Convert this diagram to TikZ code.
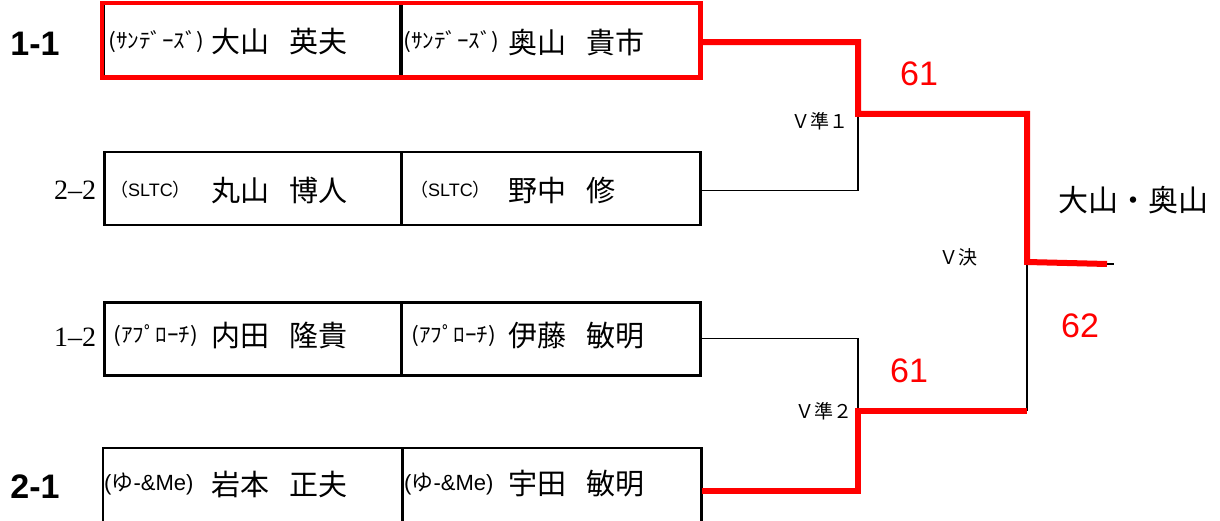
\documentclass[tikz,border=0pt]{standalone}
\usepackage{fontspec}
\setmainfont{Noto Sans CJK JP}
\newfontfamily\arialf{Liberation Sans}
\newfontfamily\timesf{Liberation Serif}
\newcommand{\kata}[1]{\scalebox{1.1}[1]{#1}}
\begin{document}
\begin{tikzpicture}[x=1pt,y=-1pt,
  cell/.style={draw=black,line width=2.5pt,minimum height=73pt,inner sep=0pt,anchor=north west},
  lcell/.style={cell,minimum width=297pt},
  rcell/.style={cell,minimum width=299pt},
  club/.style={anchor=west,inner sep=0pt,font=\fontsize{21}{21}\selectfont},
  clubl/.style={anchor=west,inner sep=0pt,font=\fontsize{18}{18}\selectfont},
  clubm/.style={anchor=west,inner sep=0pt,font=\fontsize{22}{22}\selectfont},
  pname/.style={anchor=west,inner sep=0pt,font=\fontsize{29}{29}\selectfont},
  win/.style={draw=red,line width=6pt},
  lose/.style={draw=black,line width=1.3pt},
  vlbl/.style={inner sep=0pt,font=\fontsize{19}{19}\selectfont},
  score/.style={inner sep=0pt,text=red,font=\arialf\fontsize{34}{34}\selectfont},
  seedb/.style={inner sep=0pt,font=\arialf\bfseries\fontsize{34}{34}\selectfont},
  seeds/.style={inner sep=0pt,font=\timesf\fontsize{28}{28}\selectfont}
]
\useasboundingbox (0,0) rectangle (1220,521);
% boxes
\node[lcell,minimum height=72pt] (L1) at (102,3) {};
\node[rcell,minimum height=72pt,minimum width=298pt] (R1) at (400,3) {};
\draw[red,line width=4.5pt] (L1.north west) rectangle (R1.south east);
\node[lcell] (L2) at (103,151) {};
\node[rcell] (R2) at (400,151) {};
\node[lcell] (L3) at (103,301) {};
\node[rcell] (R3) at (400,301) {};
\node[lcell,draw=none,minimum height=75pt] (L4) at (103,448) {};
\node[rcell,draw=none,minimum height=75pt] (R4) at (400,448) {};
\draw[line width=2.5pt] (L4.south west) -- (L4.north west) -- (R4.north east) -- (R4.south east);
\draw[line width=2.5pt] (L4.north east) -- (L4.south east);
% texts
\node[club] (c1a) at (108,42) {\kata{(ｻﾝﾃﾞｰｽﾞ)}};
\node[pname] (p1a) at (211,42) {大山\hspace{20pt}英夫};
\node[club] (c1b) at (403,42) {\kata{(ｻﾝﾃﾞｰｽﾞ)}};
\node[pname] (p1b) at (508,42) {奥山\hspace{20pt}貴市};
\node[clubl] (c2a) at (110,190) {（{\arialf SLTC}）};
\node[pname] (p2a) at (211,190) {丸山\hspace{20pt}博人};
\node[clubl] (c2b) at (410,190) {（{\arialf SLTC}）};
\node[pname] (p2b) at (508,190) {野中\hspace{20pt}修};
\node[club] (c3a) at (113,336) {\kata{(ｱﾌﾟﾛｰﾁ)}};
\node[pname] (p3a) at (211,336) {内田\hspace{20pt}隆貴};
\node[club] (c3b) at (411,336) {\kata{(ｱﾌﾟﾛｰﾁ)}};
\node[pname] (p3b) at (508,336) {伊藤\hspace{20pt}敏明};
\node[clubm] (c4a) at (104,484) {{\arialf(}ゆ{\arialf-\&Me)}};
\node[pname] (p4a) at (211,484) {岩本\hspace{20pt}正夫};
\node[clubm] (c4b) at (404,484) {{\arialf(}ゆ{\arialf-\&Me)}};
\node[pname] (p4b) at (508,484) {宇田\hspace{20pt}敏明};
% seeds
\node[seedb] (n11) at (35,44) {1-1};
\node[seedb] (n21) at (35,487) {2-1};
\node[seeds] (n22) at (75,190) {2–2};
\node[seeds] (n12) at (75,337) {1–2};
% bracket
\coordinate (q1) at (858,114);
\coordinate (q2) at (858,411);
\coordinate (k1) at (1027,114);
\coordinate (k2) at (1027,411);
\coordinate (f) at (1027,262);
\coordinate (fe) at (1107,264);
\coordinate (fe2) at (1114,264);
\draw[lose] ([yshift=-2pt]R2.east) -| (q1);
\draw[lose] (R3.east) -| (q2);
\draw[lose] (k2) -- (f);
\draw[lose] (fe) -- (fe2);
\draw[win] ([yshift=-2pt]R1.east) -| (q1) -- (k1) -- (f) -- (fe);
\draw[win] ([yshift=-4pt]R4.east) -| (q2) -- (k2);
% labels
\node[vlbl] (v1) at (820,121) {Ｖ準１};
\node[vlbl] (v2) at (824,411) {Ｖ準２};
\node[vlbl] (vf) at (958,257) {Ｖ決};
\node[score] (s1) at (919,74) {61};
\node[score] (s2) at (909,371) {61};
\node[score] (s3) at (1080,326) {62};
\node[inner sep=0pt,font=\fontsize{30}{30}\selectfont] (ch) at (1133,200) {大山・奥山};
\end{tikzpicture}
\end{document}
